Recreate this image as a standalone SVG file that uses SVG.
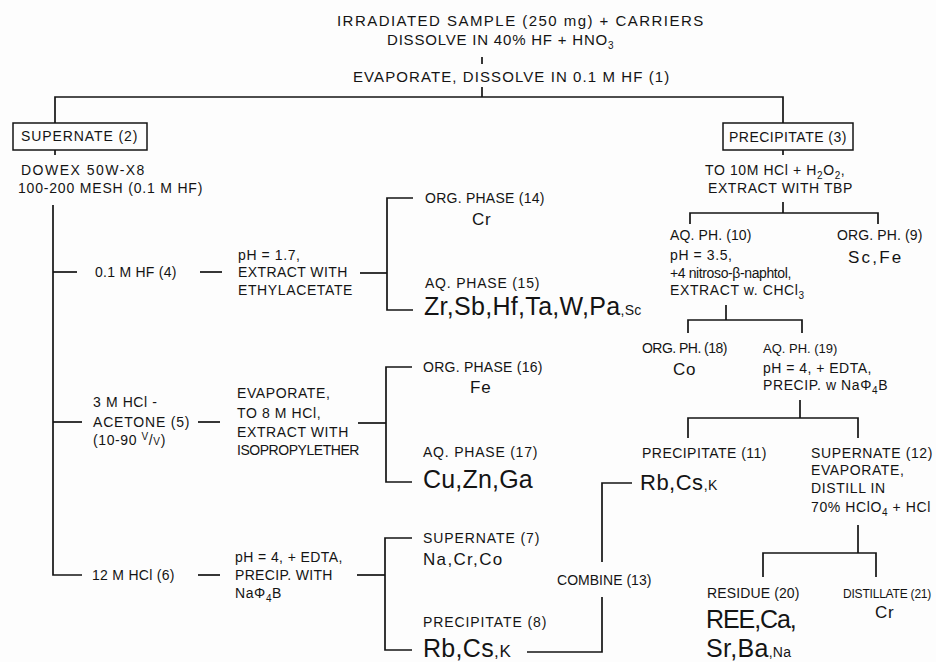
<svg xmlns="http://www.w3.org/2000/svg" width="936" height="662" viewBox="0 0 936 662">
<style>
text{font-family:"Liberation Sans","DejaVu Sans",sans-serif;fill:#141414;font-size:14px;letter-spacing:0.6px}
.h{font-size:15px;letter-spacing:0.8px}
.m{font-size:17px;letter-spacing:0.8px}
.b{font-size:25px;letter-spacing:0.3px}
.bb{font-size:22px;letter-spacing:0.5px}
.sm{font-size:14px}
.n{font-size:13px;letter-spacing:0}
.nn{font-size:12px;letter-spacing:-0.2px}
.sub{font-size:10px}
.conn path{fill:none;stroke:#141414;stroke-width:1.7}
.box{fill:none;stroke:#141414;stroke-width:1.5}
</style>
<rect width="936" height="662" fill="#fdfdfd"/>
<g id="connectors" class="conn">
<path d="M482,57 V64"/>
<path d="M482,87 V97"/>
<path d="M55,123 V97 H783 V123"/>
<path d="M55,150 V155"/>
<path d="M53,205 V575 H82"/>
<path d="M53,272 H77"/>
<path d="M53,422 H82"/>
<path d="M200,272 H222"/>
<path d="M198,422 H220"/>
<path d="M198,575 H220"/>
<path d="M360,273 H387"/>
<path d="M413,198 H387 V310 H413"/>
<path d="M358,423 H386"/>
<path d="M412,367 H386 V482 H412"/>
<path d="M357,575 H385"/>
<path d="M412,538 H385 V650 H412"/>
<path d="M527,652 H602 V597"/>
<path d="M602,562 V483 H632"/>
<path d="M783,150 V155"/>
<path d="M783,202 V213"/>
<path d="M690,224 V213 H878 V224"/>
<path d="M726,305 V320"/>
<path d="M688,333 V320 H802 V333"/>
<path d="M800,400 V418"/>
<path d="M688,438 V418 H858 V438"/>
<path d="M858,525 V553"/>
<path d="M763,577 V553 H876 V577"/>
</g>
<g id="n1">
<text class="h" x="337" y="26" textLength="367">IRRADIATED SAMPLE (250 mg) + CARRIERS</text>
<text class="h" x="387" y="45">DISSOLVE IN 40% HF + HNO<tspan class="sub" dy="4">3</tspan></text>
<text class="h" x="353" y="82" textLength="317">EVAPORATE, DISSOLVE IN 0.1 M HF (1)</text>
</g>
<g id="n2">
<rect class="box" x="13" y="123" width="134" height="27"/>
<text x="21" y="141" textLength="117">SUPERNATE (2)</text>
<text x="21" y="175" textLength="124">DOWEX 50W-X8</text>
<text x="18" y="193" textLength="185">100-200 MESH (0.1 M HF)</text>
</g>
<g id="n4">
<text x="95" y="277" textLength="82">0.1 M HF (4)</text>
<text x="238" y="260">pH = 1.7,</text>
<text x="238" y="277" textLength="110">EXTRACT WITH</text>
<text x="238" y="295" textLength="115">ETHYLACETATE</text>
</g>
<g id="n14">
<text x="425" y="203" textLength="120">ORG. PHASE (14)</text>
<text class="m" x="472" y="225">Cr</text>
</g>
<g id="n15">
<text x="425" y="288" textLength="115">AQ. PHASE (15)</text>
<text class="b" x="424" y="315">Zr,Sb,Hf,Ta,W,Pa<tspan class="sm">,Sc</tspan></text>
</g>
<g id="n5">
<text x="93" y="407">3 M HCl -</text>
<text x="93" y="427" textLength="97">ACETONE (5)</text>
<text x="93" y="445">(10-90 <tspan class="sub" dy="-5">V</tspan><tspan dy="5">/</tspan><tspan class="sub">V</tspan>)</text>
<text x="237" y="398">EVAPORATE,</text>
<text x="237" y="418">TO 8 M HCl,</text>
<text x="237" y="437">EXTRACT WITH</text>
<text x="237" y="455" textLength="123">ISOPROPYLETHER</text>
</g>
<g id="n16">
<text x="423" y="372" textLength="120">ORG. PHASE (16)</text>
<text class="m" x="470" y="393">Fe</text>
</g>
<g id="n17">
<text x="423" y="457" textLength="115">AQ. PHASE (17)</text>
<text class="b" x="423" y="488" textLength="110">Cu,Zn,Ga</text>
</g>
<g id="n6">
<text x="92" y="580" textLength="83">12 M HCl (6)</text>
<text x="235" y="562" textLength="108">pH = 4, + EDTA,</text>
<text x="235" y="580" textLength="98">PRECIP. WITH</text>
<text x="235" y="598">NaΦ<tspan class="sub" dy="4">4</tspan><tspan dy="-4">B</tspan></text>
</g>
<g id="n7">
<text x="423" y="543" textLength="117">SUPERNATE (7)</text>
<text class="m" x="423" y="565" textLength="80">Na,Cr,Co</text>
</g>
<g id="n8">
<text x="423" y="627" textLength="124">PRECIPITATE (8)</text>
<text class="b" x="423" y="657">Rb,Cs<tspan class="m">,K</tspan></text>
</g>
<g id="n13">
<text x="557" y="585" textLength="95">COMBINE (13)</text>
</g>
<g id="n3">
<rect class="box" x="723" y="123" width="130" height="27"/>
<text x="729" y="142" textLength="118">PRECIPITATE (3)</text>
<text x="705" y="175">TO 10M HCl + H<tspan class="sub" dy="4">2</tspan><tspan dy="-4">O</tspan><tspan class="sub" dy="4">2</tspan><tspan dy="-4">,</tspan></text>
<text x="708" y="193" textLength="145">EXTRACT WITH TBP</text>
</g>
<g id="n10">
<text x="670" y="240" textLength="82">AQ. PH. (10)</text>
<text x="670" y="260">pH = 3.5,</text>
<text x="670" y="278" textLength="122">+4 nitroso-β-naphtol,</text>
<text x="670" y="295">EXTRACT w. CHCl<tspan class="sub" dy="4">3</tspan></text>
</g>
<g id="n9">
<text x="837" y="240" textLength="86">ORG. PH. (9)</text>
<text class="m" x="848" y="263" textLength="54">Sc,Fe</text>
</g>
<g id="n18">
<text x="642" y="353" textLength="86">ORG. PH. (18)</text>
<text class="m" x="673" y="375">Co</text>
</g>
<g id="n19">
<text class="n" x="763" y="353">AQ. PH. (19)</text>
<text x="763" y="373" textLength="109">pH = 4, + EDTA,</text>
<text x="763" y="390">PRECIP. w NaΦ<tspan class="sub" dy="4">4</tspan><tspan dy="-4">B</tspan></text>
</g>
<g id="n11">
<text x="642" y="458" textLength="125">PRECIPITATE (11)</text>
<text class="bb" x="640" y="490">Rb,Cs<tspan class="sm">,K</tspan></text>
</g>
<g id="n12">
<text x="811" y="458" textLength="122">SUPERNATE (12)</text>
<text x="811" y="475">EVAPORATE,</text>
<text x="811" y="493">DISTILL IN</text>
<text x="811" y="512">70% HClO<tspan class="sub" dy="4">4</tspan><tspan dy="-4"> + HCl</tspan></text>
</g>
<g id="n20">
<text x="707" y="598" textLength="93">RESIDUE (20)</text>
<text class="b" x="706" y="628" textLength="91">REE,Ca,</text>
<text class="b" x="706" y="657">Sr,Ba<tspan class="sm">,Na</tspan></text>
</g>
<g id="n21">
<text class="nn" x="843" y="598">DISTILLATE (21)</text>
<text class="m" x="875" y="618">Cr</text>
</g>
</svg>
